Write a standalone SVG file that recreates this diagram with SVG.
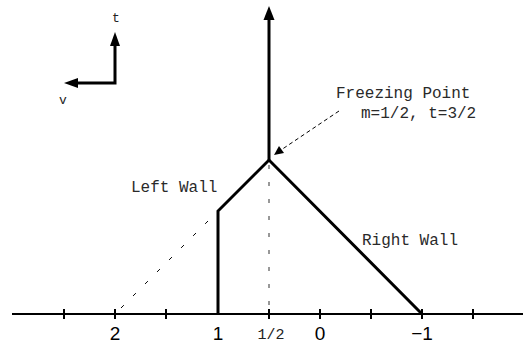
<svg xmlns="http://www.w3.org/2000/svg" width="523" height="343" viewBox="0 0 523 343">
<defs>
<style>
.thick{stroke:#000;stroke-width:3;fill:none}
.axis{stroke:#000;stroke-width:2;fill:none}
.mono{font-family:"Liberation Mono","Courier New",monospace;font-size:16px;fill:#2a2a2a}
.num{font-family:"Liberation Sans",Arial,sans-serif;font-size:19px;fill:#000;text-anchor:middle}
.small{font-family:"Liberation Mono","Courier New",monospace;font-size:15px;fill:#222;text-anchor:middle}
.lbl{font-family:"Liberation Mono","Courier New",monospace;font-size:13px;fill:#222;text-anchor:middle}
.head{fill:#000}
</style>
</defs>
<rect width="523" height="343" fill="#fff"/>
<g id="connectors">
<line class="axis" x1="12" y1="314" x2="523" y2="314"/>
<g stroke="#000" stroke-width="2">
<line x1="64" y1="309" x2="64" y2="319"/>
<line x1="115" y1="309" x2="115" y2="319"/>
<line x1="166" y1="309" x2="166" y2="319"/>
<line x1="269" y1="309" x2="269" y2="319"/>
<line x1="320" y1="309" x2="320" y2="319"/>
<line x1="371" y1="309" x2="371" y2="319"/>
<line x1="422" y1="309" x2="422" y2="319"/>
<line x1="473" y1="309" x2="473" y2="319"/>
</g>
<line x1="269" y1="165" x2="269" y2="312" stroke="#777" stroke-width="1.5" stroke-dasharray="4,13"/>
<line x1="121" y1="308" x2="216" y2="213" stroke="#000" stroke-width="1" stroke-dasharray="4,13"/>
<polyline class="thick" points="218,314 218,211 269,160 422,314"/>
<line class="thick" x1="269" y1="160" x2="269" y2="18"/>
<polygon class="head" points="269,6 263.5,20 274.5,20"/>
<line x1="339" y1="111" x2="281" y2="150" stroke="#000" stroke-width="1" stroke-dasharray="4,3"/>
<polygon class="head" points="274,155 279,146 284,153"/>
<polyline class="thick" points="115,44 115,83 76,83"/>
<polygon class="head" points="115,32 110,46 120,46"/>
<polygon class="head" points="64,83 78,78 78,88"/>
</g>
<g id="axis-labels">
<text class="num" x="115" y="340">2</text>
<text class="num" x="218" y="340">1</text>
<text class="small" x="271" y="339">1/2</text>
<text class="num" x="320" y="340">0</text>
<text class="num" x="422" y="340">−1</text>
</g>
<g id="coord-t"><text class="lbl" x="116" y="22">t</text></g>
<g id="coord-v"><text class="lbl" x="63" y="104">v</text></g>
<g id="freezing-point">
<text class="mono" x="336" y="98">Freezing Point</text>
<text class="mono" x="361" y="118">m=1/2, t=3/2</text>
</g>
<g id="left-wall"><text class="mono" x="131" y="192">Left Wall</text></g>
<g id="right-wall"><text class="mono" x="362" y="245">Right Wall</text></g>
</svg>
